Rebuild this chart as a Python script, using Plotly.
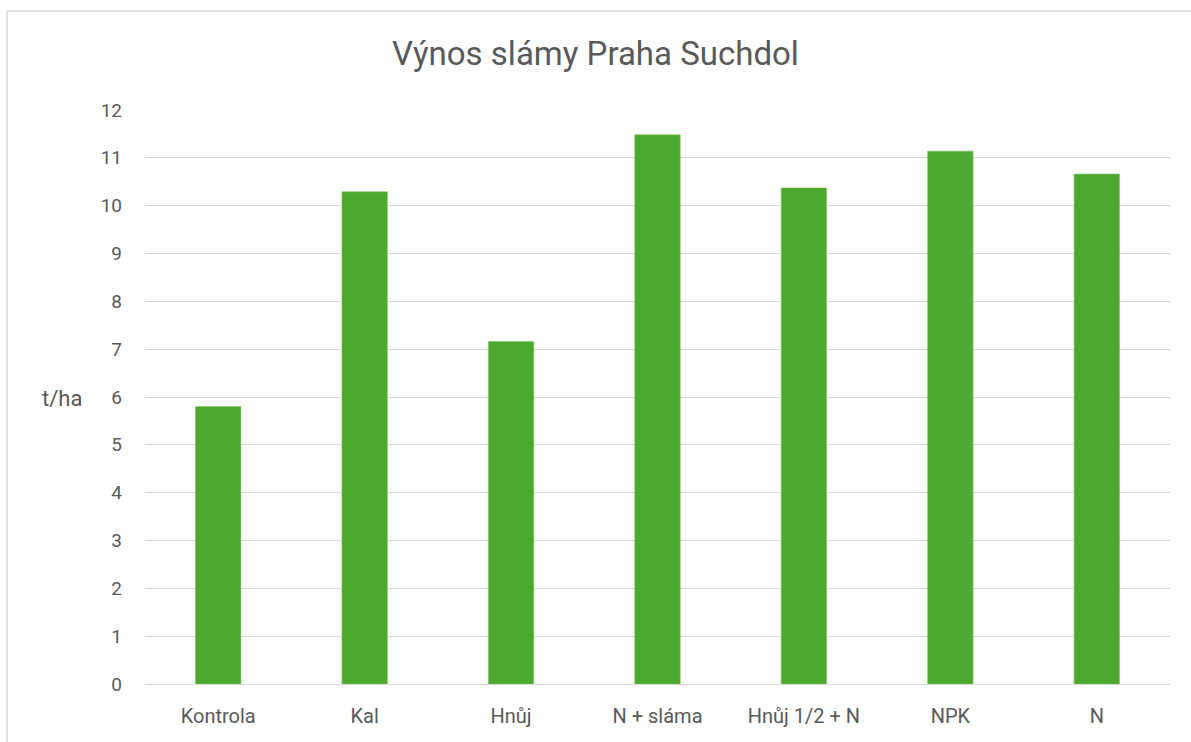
import plotly.graph_objects as go

categories = ["Kontrola", "Kal", "Hnůj", "N + sláma", "Hnůj 1/2 + N", "NPK", "N"]
yields = [5.80, 10.29, 7.16, 11.48, 10.37, 11.14, 10.66]
y_ticks = list(range(0, 13))

W, H = 1191, 742
L, R, T, B = 145, 21, 110, 58
pw, ph = W - L - R, H - T - B

FONT = "Roboto, Arial, sans-serif"
GRAY = "#595959"

fig = go.Figure()
fig.add_trace(go.Bar(
    x=categories,
    y=yields,
    marker=dict(color="#4EA72E", line=dict(color="#7BC45E", width=0.6)),
    hoverinfo="x+y",
))

fig.update_layout(
    width=W, height=H,
    margin=dict(l=L, r=R, t=T, b=B),
    paper_bgcolor="white",
    plot_bgcolor="white",
    bargap=0.69,
    showlegend=False,
    title=dict(
        text="Výnos slámy Praha Suchdol",
        x=0.5, xanchor="center",
        y=1 - 53 / H, yanchor="middle",
        font=dict(family=FONT, size=33, color=GRAY),
    ),
    font=dict(family=FONT, color=GRAY, size=19),
)

fig.update_yaxes(
    range=[0, 12],
    tickvals=y_ticks,
    showgrid=True, gridcolor="#D9D9D9", gridwidth=1.3,
    zeroline=False,
    showline=False,
    ticks="",
    ticklabelstandoff=22,
    tickfont=dict(size=19, color=GRAY),
)
fig.update_xaxes(
    showline=True, linecolor="#D9D9D9", linewidth=1.3,
    ticks="",
    ticklabelstandoff=14,
    tickfont=dict(size=20, color=GRAY),
)

# axis title placed to the left like in the original
fig.add_annotation(
    text="t/ha", xref="paper", yref="paper",
    x=(62 - L) / pw, y=(H - B - 398) / ph,
    showarrow=False, xanchor="center", yanchor="middle",
    font=dict(family=FONT, size=22, color=GRAY),
)

# chart frame
fig.add_shape(
    type="rect", xref="paper", yref="paper",
    x0=(7 - L) / pw, x1=(W + 20 - L) / pw,
    y0=(H - B - (H + 20)) / ph, y1=(H - B - 11) / ph,
    line=dict(color="#D9D9D9", width=1.5),
    fillcolor="rgba(0,0,0,0)",
    layer="below",
)

fig.write_html(
    "out.html",
    config={"displayModeBar": False},
    post_script="document.body.style.margin='0';",
)
